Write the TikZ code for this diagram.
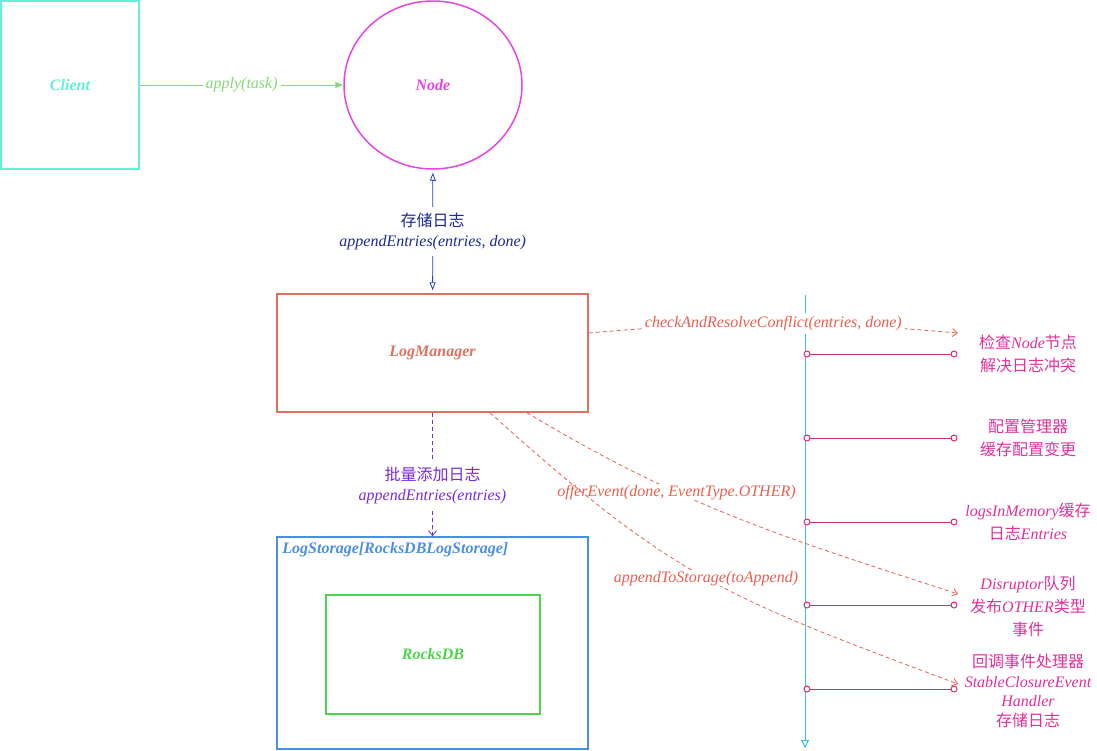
\documentclass[tikz,border=0pt]{standalone}
\usepackage{fontspec}
\setmainfont{Liberation Serif}
\newfontfamily\cjk{Noto Sans CJK SC}
\newcommand{\zh}[1]{{\cjk\upshape #1}}
\usetikzlibrary{arrows.meta, positioning, shapes.geometric}
\definecolor{ccyan}{HTML}{66EED8}
\definecolor{cmag}{HTML}{E545E5}
\definecolor{cgreen}{HTML}{88D877}
\definecolor{cblue}{HTML}{2240C8}
\definecolor{cnavy}{HTML}{1A2A99}
\definecolor{cred}{HTML}{E07060}
\definecolor{cdash}{HTML}{E86050}
\definecolor{cpurple}{HTML}{7A2BE2}
\definecolor{cstore}{HTML}{4A8FE0}
\definecolor{crock}{HTML}{4CD44C}
\definecolor{cline}{HTML}{40B8E8}
\definecolor{ccrim}{HTML}{D0306A}
\definecolor{cpink}{HTML}{E0309A}
\tikzset{
  every picture/.style={font=\fontsize{16}{19.5}\selectfont\itshape},
  box/.style={draw=#1, text=#1, line width=1.5pt, font=\fontsize{16}{19.5}\selectfont\bfseries\itshape},
  dot/.style={circle, draw=ccrim, fill=white, line width=1pt, inner sep=0pt, minimum size=6pt},
  call/.style={draw=cdash, dashed, dash pattern=on 4pt off 3pt, line width=0.8pt, -{Straight Barb[length=5pt, width=8pt]}},
  tag/.style={fill=white, inner sep=3pt, align=center},
  note/.style={text=cpink, align=center, font=\fontsize{16}{23}\selectfont\itshape},
}
\begin{document}
\begin{tikzpicture}[x=1pt, y=-1pt]
  \useasboundingbox (0,0) rectangle (1097,750);
  % components
  \node[box=ccyan, line width=2pt, minimum width=138pt, minimum height=168pt] (client) at (70,85) {Client};
  \node[box=cmag, ellipse, minimum width=178pt, minimum height=168pt] (node) at (433,85) {Node};
  \node[box=cred, minimum width=311pt, minimum height=118pt] (logmgr) at (432.5,353) {LogManager};
  \node[box=cstore, minimum width=311pt, minimum height=212pt] (storage) at (432.5,643) {};
  \node[text=cstore, font=\fontsize{16}{19.5}\selectfont\bfseries\itshape, anchor=north west, inner sep=2pt] (storagetitle) at ([xshift=4pt, yshift=-4pt]storage.north west) {LogStorage[RocksDBLogStorage]};
  \node[box=crock, minimum width=214pt, minimum height=119pt] (rocks) at (433,654.5) {RocksDB};
  % calls
  \draw[cgreen, line width=0.8pt, -{Triangle[length=8pt, width=6pt]}] (client) -- node[tag, text=cgreen] {apply(task)} (node);
  \draw[cblue, line width=0.8pt, {Triangle[open, length=8pt, width=6pt]}-{Triangle[open, length=8pt, width=6pt]}, shorten <=3pt, shorten >=3pt]
    (node) -- node[tag, text=cnavy, inner sep=6pt] {\zh{存储日志}\\appendEntries(entries, done)} (logmgr);
  \draw[cpurple, dashed, dash pattern=on 4pt off 3pt, line width=0.8pt, -{Straight Barb[length=5pt, width=8pt]}]
    (logmgr) -- node[tag, text=cpurple, inner sep=6pt, yshift=-11pt] {\zh{批量添加日志}\\appendEntries(entries)} (storage);
  % timeline
  \coordinate (ttop) at (805,295);
  \coordinate (tbot) at (805,748);
  \draw[cline, line width=1pt, -{Triangle[open, length=8pt, width=8pt]}] (ttop) -- (tbot);
  \foreach \y [count=\i] in {354,438,522,605,689} {
    \draw[ccrim, line width=1pt] (807,\y) -- (954,\y);
    \node[dot] (s\i) at (807,\y) {};
    \node[dot] (f\i) at (954,\y) {};
  }
  \node[note] (n1) at (1028,354) {\zh{检查}Node\zh{节点}\\\zh{解决日志冲突}};
  \node[note] (n2) at (1028,438) {\zh{配置管理器}\\\zh{缓存配置变更}};
  \node[note] (n3) at (1028,522) {logsInMemory\zh{缓存}\\\zh{日志}Entries};
  \node[note] (n4) at (1028,606) {Disruptor\zh{队列}\\\zh{发布}OTHER\zh{类型}\\\zh{事件}};
  \node[note, font=\fontsize{16}{19.5}\selectfont\itshape] (n5) at (1028,691) {\zh{回调事件处理器}\\StableClosureEvent\\Handler\\\zh{存储日志}};
  % async calls out of the log manager
  \coordinate (c1) at (958,333);
  \coordinate (c2) at (958,594);
  \coordinate (c3) at (958,684);
  \draw[call] ([yshift=20pt]logmgr.east) to[out=5, in=175] node[tag, text=cdash, pos=0.5] {checkAndResolveConflict(entries, done)} (c1);
  \draw[call] ([xshift=94.5pt]logmgr.south) to[out=-31, in=162] node[tag, text=cdash, pos=0.35, inner sep=1pt] {offerEvent(done, EventType.OTHER)} (c2);
  \draw[call] ([xshift=57.5pt]logmgr.south) to[out=-42, in=159.5, looseness=1.18] node[tag, text=cdash, pos=0.5, inner sep=1pt] {appendToStorage(toAppend)} (c3);
\end{tikzpicture}
\end{document}
